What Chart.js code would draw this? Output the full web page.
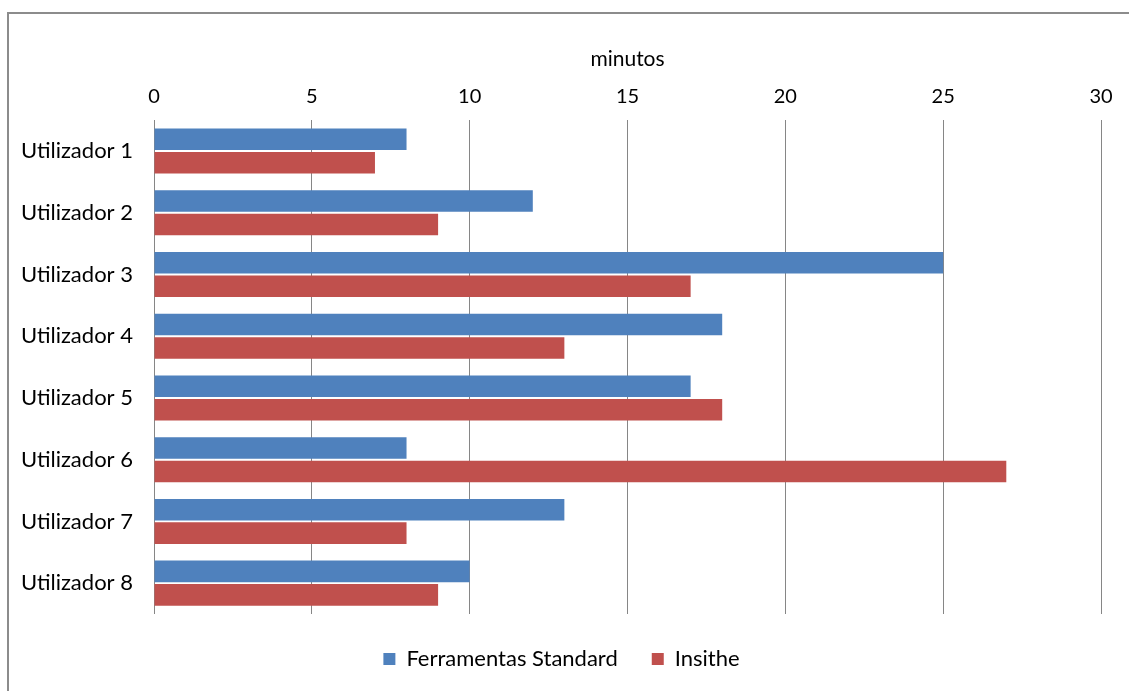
<!DOCTYPE html>
<html>
<head>
<meta charset="utf-8">
<script src="https://cdn.jsdelivr.net/npm/chart.js@4"></script>
<style>
  html, body { margin: 0; padding: 0; background: #fff; overflow: hidden; }
  #frame {
    position: absolute; left: 7px; top: 12px;
    width: 1140px; height: 700px;
    border: 2px solid #8c8c8c;
  }
  #wrap { position: absolute; left: 0; top: 0; width: 1120px; height: 677px; }
</style>
</head>
<body>
<div id="frame">
  <div id="wrap"><canvas id="barChart"></canvas></div>
</div>
<script>
Chart.defaults.font.family = "Lato, sans-serif";
Chart.defaults.font.size = 20;
Chart.defaults.color = '#000';

const categories = ['Utilizador 1', 'Utilizador 2', 'Utilizador 3', 'Utilizador 4',
                    'Utilizador 5', 'Utilizador 6', 'Utilizador 7', 'Utilizador 8'];
const ferramentas = [8, 12, 25, 18, 17, 8, 13, 10];
const insithe = [7, 9, 17, 13, 18, 27, 8, 9];

const chart_ctx = document.getElementById('barChart');
var barChart = new Chart(chart_ctx, {
  type: 'bar',
  data: {
    labels: categories,
    datasets: [{
      label: 'Ferramentas Standard',
      data: ferramentas,
      backgroundColor: '#4F81BD',
      borderWidth: 0
    }, {
      label: 'Insithe',
      data: insithe,
      backgroundColor: '#C0504D',
      borderWidth: 0
    }]
  },
  options: {
    indexAxis: 'y',
    responsive: true,
    maintainAspectRatio: false,
    animation: false,
    layout: { padding: { left: 13, right: 28, top: 29, bottom: 11 } },
    datasets: {
      bar: { categoryPercentage: 0.76, barPercentage: 0.92 }
    },
    plugins: {
      legend: {
        position: 'bottom',
        labels: { boxWidth: 12, boxHeight: 12, padding: 34, font: { size: 22 } }
      },
      tooltip: { enabled: false }
    },
    scales: {
      x: {
        position: 'top',
        min: 0,
        max: 30,
        ticks: { stepSize: 5, padding: 14, font: { lineHeight: 1 } },
        grid: { color: '#868686', lineWidth: 1, drawTicks: false },
        border: { display: false },
        title: { display: true, text: 'minutos', font: { size: 21 }, padding: { top: 4, bottom: 0 } }
      },
      y: {
        grid: { display: false, drawTicks: false },
        border: { display: false },
        ticks: { padding: 21, font: { size: 22 } },
        afterFit: (scale) => { scale.width = 132; }
      }
    }
  }
});
</script>
</body>
</html>
